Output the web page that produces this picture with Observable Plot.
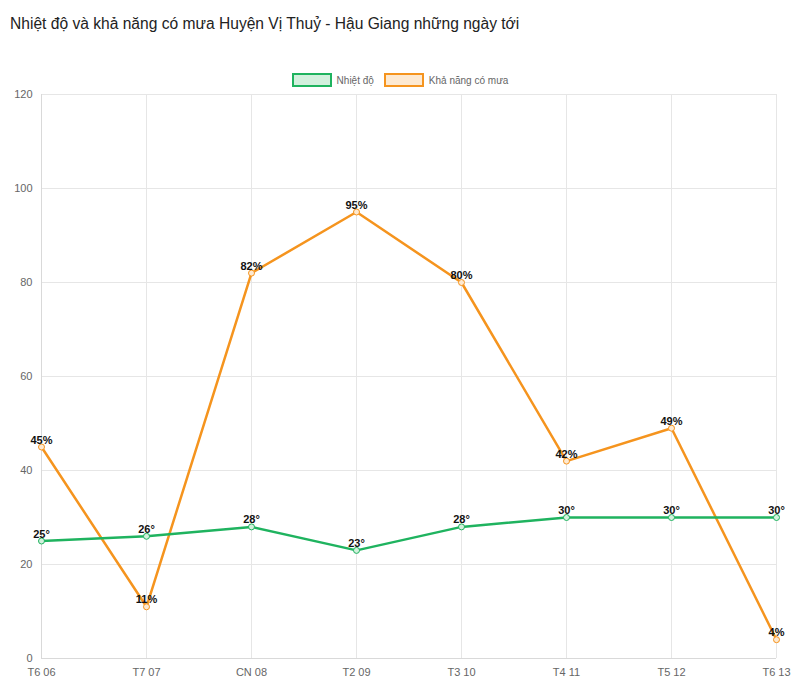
<!DOCTYPE html>
<html><head><meta charset="utf-8">
<script src="https://cdn.jsdelivr.net/npm/d3@7"></script>
<script src="https://cdn.jsdelivr.net/npm/@observablehq/plot@0.6"></script>
<style>
body{margin:0;background:#fff;font-family:"Liberation Sans",Arial,sans-serif;}
#title{position:absolute;left:10px;top:15px;font-size:15.6px;color:#222;}
#legend{position:absolute;top:73px;left:0;width:800px;display:flex;justify-content:center;font-size:10px;color:#666;align-items:center;}
.sw{display:inline-block;width:36px;height:10px;border:2px solid;margin-right:5px;}
.it{display:flex;align-items:center;margin:0 5px;}
#chart{position:absolute;top:86px;left:0;}
</style></head><body>
<div id="title">Nhiệt độ và khả năng có mưa Huyện Vị Thuỷ - Hậu Giang những ngày tới</div>
<div id="legend">
<span class="it"><span class="sw" style="border-color:#1fb35f;background:#d2f0dd"></span>Nhiệt độ</span>
<span class="it"><span class="sw" style="border-color:#f5941e;background:#fde9d1"></span>Khả năng có mưa</span>
</div>
<div id="chart"></div>
<script>
const days = ["T6 06","T7 07","CN 08","T2 09","T3 10","T4 11","T5 12","T6 13"];
const temps = [25,26,28,23,28,30,30,30];
const rain = [45,11,82,95,80,42,49,4];
const yTicks = [0,20,40,60,80,100,120];

const tData = days.map((d,i)=>({day:d, v:temps[i], label:temps[i]+"°"}));
const rData = days.map((d,i)=>({day:d, v:rain[i], label:rain[i]+"%"}));
const green = "#1fb35f", orange = "#f5941e";

const chart = Plot.plot({
  width: 800, height: 607,
  marginLeft: 41, marginRight: 24, marginTop: 8, marginBottom: 35,
  style: {fontFamily: '"Liberation Sans",Arial,sans-serif', fontSize: "11px", color: "#666"},
  x: {type: "point", domain: days, padding: 0, label: null, tickSize: 0, tickPadding: 10},
  y: {domain: [0,120], ticks: yTicks, label: null, tickSize: 0, tickPadding: 9},
  marks: [
    Plot.gridX(days, {stroke: "#e6e6e6", strokeOpacity: 1}),
    Plot.gridY(yTicks, {stroke: "#e6e6e6", strokeOpacity: 1}),
    Plot.ruleY([0], {stroke: "#d9d9d9"}),
    Plot.ruleX([days[0]], {stroke: "#d9d9d9"}),
    Plot.line(rData, {x: "day", y: "v", stroke: orange, strokeWidth: 2.5}),
    Plot.line(tData, {x: "day", y: "v", stroke: green, strokeWidth: 2.5}),
    Plot.dot(rData, {x: "day", y: "v", r: 3, fill: "#fde9d1", stroke: orange, strokeWidth: 1}),
    Plot.dot(tData, {x: "day", y: "v", r: 3, fill: "#d2f0dd", stroke: green, strokeWidth: 1}),
    Plot.text(rData, {x: "day", y: "v", text: "label", dy: -7, fill: "#111", fontWeight: "bold", fontSize: 11}),
    Plot.text(tData, {x: "day", y: "v", text: "label", dy: -7, fill: "#111", fontWeight: "bold", fontSize: 11})
  ]
});
document.getElementById("chart").appendChild(chart);
</script>
</body></html>
